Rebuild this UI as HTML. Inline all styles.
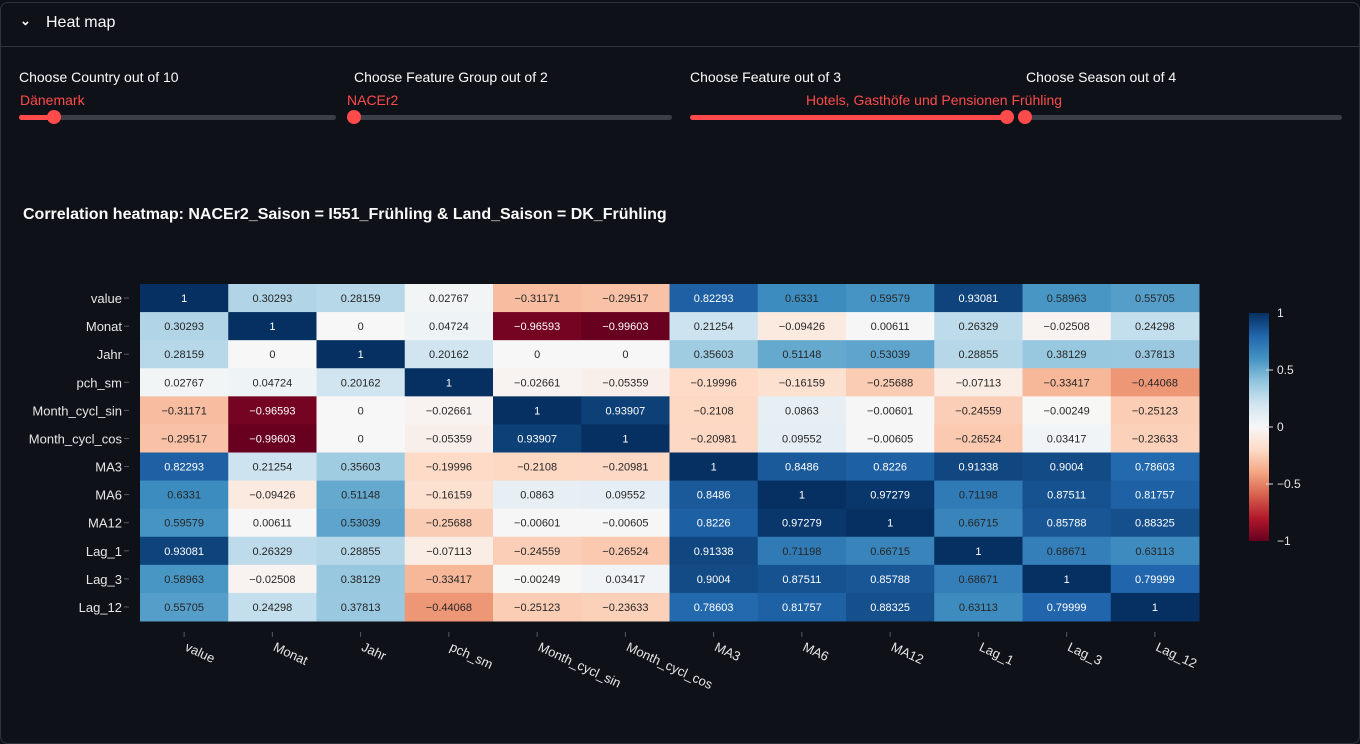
<!DOCTYPE html>
<html><head><meta charset="utf-8"><style>
body{margin:0;background:#0e1117;width:1360px;height:737px;overflow:hidden;font-family:"Liberation Sans",sans-serif;color:#fafafa;position:relative}
.abs{position:absolute}
.lbl{font-size:14px;color:#fafafa}
.val{font-size:14px;color:#ff4b4b}
.track{height:5px;border-radius:3px;background:#3b3e46}
.fill{height:5px;border-radius:3px;background:#ff4b4b}
.thumb{width:14px;height:14px;border-radius:50%;background:#ff4b4b}
</style></head><body>
<div class="abs" style="left:0;top:2px;width:1358px;height:740px;border:1px solid #31333c;border-radius:8px"></div>
<div class="abs" style="left:1px;top:3px;width:1358px;height:43px;border-bottom:1px solid #31333c"></div>
<div class="abs" style="left:20px;top:13px;font-size:13px;font-weight:bold">&#8964;</div>
<div class="abs" style="left:46px;top:14px;font-size:16px">Heat map</div>

<div class="abs lbl" style="left:19px;top:69px">Choose Country out of 10</div>
<div class="abs val" style="left:20px;top:92px">Dänemark</div>
<div class="abs track" style="left:19px;top:115px;width:317px"></div>
<div class="abs fill" style="left:19px;top:115px;width:36px"></div>
<div class="abs thumb" style="left:47px;top:110px"></div>

<div class="abs lbl" style="left:354px;top:69px">Choose Feature Group out of 2</div>
<div class="abs val" style="left:347px;top:92px">NACEr2</div>
<div class="abs track" style="left:347px;top:115px;width:325px"></div>
<div class="abs thumb" style="left:347px;top:110px"></div>

<div class="abs lbl" style="left:690px;top:69px">Choose Feature out of 3</div>
<div class="abs lbl" style="left:1026px;top:69px">Choose Season out of 4</div>
<div class="abs val" style="left:806px;top:92px">Hotels, Gasthöfe und Pensionen Frühling</div>
<div class="abs track" style="left:1025px;top:115px;width:317px"></div>
<div class="abs fill" style="left:690px;top:115px;width:317px"></div>
<div class="abs thumb" style="left:1000px;top:110px"></div>
<div class="abs thumb" style="left:1018px;top:110px"></div>

<div class="abs" style="left:23px;top:206px;font-size:16px;font-weight:bold">Correlation heatmap: NACEr2_Saison = I551_Frühling &amp; Land_Saison = DK_Frühling</div>

<svg class="abs" style="left:0;top:0" width="1360" height="737" id="hm">
<defs><linearGradient id="cb" x1="0" y1="1" x2="0" y2="0">
<stop offset="0" stop-color="#67001f"/><stop offset="0.1" stop-color="#b2182b"/><stop offset="0.2" stop-color="#d6604d"/><stop offset="0.3" stop-color="#f4a582"/><stop offset="0.4" stop-color="#fddbc7"/><stop offset="0.5" stop-color="#f7f7f7"/><stop offset="0.6" stop-color="#d1e5f0"/><stop offset="0.7" stop-color="#92c5de"/><stop offset="0.8" stop-color="#4393c3"/><stop offset="0.9" stop-color="#2166ac"/><stop offset="1" stop-color="#053061"/>
</linearGradient></defs>
</svg>
<script>
const labels=["value","Monat","Jahr","pch_sm","Month_cycl_sin","Month_cycl_cos","MA3","MA6","MA12","Lag_1","Lag_3","Lag_12"];
const values=[
[1,0.30293,0.28159,0.02767,-0.31171,-0.29517,0.82293,0.6331,0.59579,0.93081,0.58963,0.55705],
[0.30293,1,0,0.04724,-0.96593,-0.99603,0.21254,-0.09426,0.00611,0.26329,-0.02508,0.24298],
[0.28159,0,1,0.20162,0,0,0.35603,0.51148,0.53039,0.28855,0.38129,0.37813],
[0.02767,0.04724,0.20162,1,-0.02661,-0.05359,-0.19996,-0.16159,-0.25688,-0.07113,-0.33417,-0.44068],
[-0.31171,-0.96593,0,-0.02661,1,0.93907,-0.2108,0.0863,-0.00601,-0.24559,-0.00249,-0.25123],
[-0.29517,-0.99603,0,-0.05359,0.93907,1,-0.20981,0.09552,-0.00605,-0.26524,0.03417,-0.23633],
[0.82293,0.21254,0.35603,-0.19996,-0.2108,-0.20981,1,0.8486,0.8226,0.91338,0.9004,0.78603],
[0.6331,-0.09426,0.51148,-0.16159,0.0863,0.09552,0.8486,1,0.97279,0.71198,0.87511,0.81757],
[0.59579,0.00611,0.53039,-0.25688,-0.00601,-0.00605,0.8226,0.97279,1,0.66715,0.85788,0.88325],
[0.93081,0.26329,0.28855,-0.07113,-0.24559,-0.26524,0.91338,0.71198,0.66715,1,0.68671,0.63113],
[0.58963,-0.02508,0.38129,-0.33417,-0.00249,0.03417,0.9004,0.87511,0.85788,0.68671,1,0.79999],
[0.55705,0.24298,0.37813,-0.44068,-0.25123,-0.23633,0.78603,0.81757,0.88325,0.63113,0.79999,1]];
const cbTicks=[1,0.5,0,-0.5,-1];
const stops=["#67001f","#b2182b","#d6604d","#f4a582","#fddbc7","#f7f7f7","#d1e5f0","#92c5de","#4393c3","#2166ac","#053061"];
function hex(h){return [1,3,5].map(i=>parseInt(h.substr(i,2),16));}
function color(v){let t=(v+1)/2*10;let i=Math.min(9,Math.floor(t));let f=t-i;let a=hex(stops[i]),b=hex(stops[i+1]);return a.map((c,k)=>Math.round(c+(b[k]-c)*f));}
const X0=140,Y0=284,CW=1059/12,CH=337/12;
const x=i=>X0+i*CW, y=i=>Y0+i*CH;
const cbY=v=>313+(1-v)/2*228;
const svg=document.getElementById('hm');const NS="http://www.w3.org/2000/svg";
function mk(t,a,txt){const e=document.createElementNS(NS,t);for(const k in a)e.setAttribute(k,a[k]);if(txt!==undefined)e.textContent=txt;svg.appendChild(e);return e;}
function fmt(v){return v<0?"\u2212"+String(-v):String(v);}
values.forEach((row,r)=>row.forEach((v,c)=>{
 const col=color(v);
 const rect=mk('rect',{x:x(c),y:y(r),width:CW+0.5,height:CH+0.5,fill:`rgb(${col})`});
 
 
 const lum=(0.2126*col[0]+0.7152*col[1]+0.0722*col[2])/255;
 const t=mk('text',{x:x(c)+CW/2,y:y(r)+CH/2+4,'text-anchor':'middle','font-size':11,fill:lum>0.408?'#262626':'#ffffff'},fmt(v));
 
 
}));
labels.forEach((l,i)=>{
 const t=mk('text',{x:122,y:y(i)+CH/2+5,'text-anchor':'end','font-size':13,fill:'#e6e6e6'},l);
 
 
 mk('line',{x1:124,x2:129,y1:y(i)+CH/2,y2:y(i)+CH/2,stroke:'#555a63'});
 const cx=x(i)+CW/2;
 mk('line',{x1:cx,x2:cx,y1:632,y2:637,stroke:'#555a63'});
 const tx=mk('text',{x:cx,y:650,'font-size':13,fill:'#e6e6e6',transform:`rotate(25 ${cx} 650)`},l);
 
 
});
const cb=mk('rect',{x:1249,y:313,width:20,height:228,fill:'url(#cb)'});


cbTicks.forEach(v=>{
 if(Math.abs(v)<1)mk('line',{x1:1266,x2:1273,y1:cbY(v),y2:cbY(v),stroke:'#dddddd'});
 const t=mk('text',{x:1277,y:cbY(v)+4,'font-size':12,fill:'#e6e6e6'},fmt(v));
 
 
});
</script>
</body></html>
